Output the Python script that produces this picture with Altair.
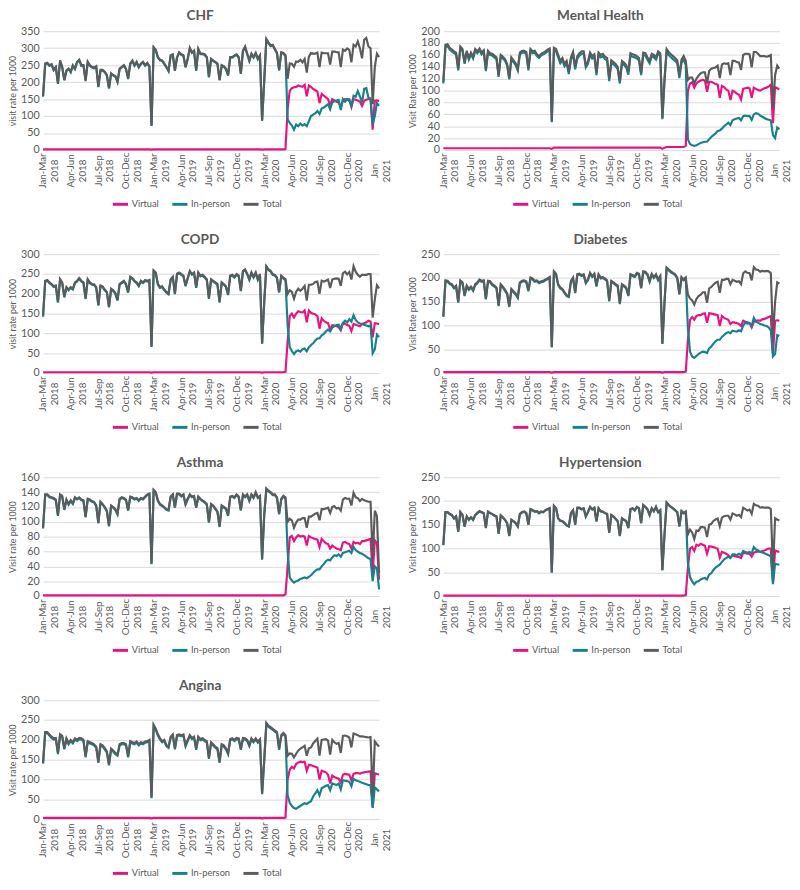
import altair as alt
import pandas as pd

# ------------------------------------------------------------------ data
TICK_QUARTER = ["Jan-Mar", "Apr-Jun", "Jul-Sep", "Oct-Dec",
                "Jan-Mar", "Apr-Jun", "Jul-Sep", "Oct-Dec",
                "Jan-Mar", "Apr-Jun", "Jul-Sep", "Oct-Dec", "Jan"]
TICK_YEAR = ["2018", "2018", "2018", "2018",
             "2019", "2019", "2019", "2019",
             "2020", "2020", "2020", "2020", "2021"]
SERIES = ["Virtual", "In-person", "Total"]

# weekly visit rates per 1000 (week 0 = first week of Jan 2018)
CHF_TOTAL = [
    159, 255, 257, 250, 253, 237, 245, 197, 264, 245, 207, 235, 240, 231, 250, 240, 260, 266, 250, 250,
    205, 260, 250, 245, 243, 247, 187, 236, 236, 231, 221, 183, 226, 221, 218, 202, 240, 245, 250, 240,
    211, 255, 264, 250, 260, 245, 255, 260, 250, 257, 247, 72,
    303, 295, 274, 266, 264, 255, 245, 234, 279, 282, 235, 274, 288, 282, 279, 245, 269, 301, 288, 293,
    235, 298, 284, 284, 282, 274, 216, 269, 264, 260, 255, 207, 250, 247, 240, 221, 274, 274, 279, 282,
    274, 226, 293, 305, 284, 264, 284, 274, 286, 269, 279, 87, 205,
    327, 317, 308, 310, 298, 286, 236, 288, 286, 279,
    210, 255, 254, 245, 261, 260, 266, 258, 268, 228, 275, 286, 284, 284, 287, 244, 287, 285, 285, 285,
    252, 290, 290, 288, 288, 244, 296, 292, 299, 295, 258, 310, 305, 320, 300, 270, 325, 330, 305, 300,
    135, 245, 284, 274]
CHF_INPERSON = [
    157, 253, 255, 248, 251, 235, 243, 195, 262, 243, 205, 233, 238, 229, 248, 238, 258, 264, 248, 248,
    203, 258, 248, 243, 241, 245, 185, 234, 234, 229, 219, 181, 224, 219, 216, 200, 238, 243, 248, 238,
    209, 253, 262, 248, 258, 243, 253, 258, 248, 255, 245, 71,
    301, 293, 272, 264, 262, 253, 243, 232, 277, 280, 233, 272, 286, 280, 277, 243, 267, 299, 286, 291,
    233, 296, 282, 282, 280, 272, 214, 267, 262, 258, 253, 205, 248, 245, 238, 219, 272, 272, 277, 280,
    272, 224, 291, 303, 282, 262, 282, 272, 284, 267, 277, 86, 203,
    325, 315, 306, 308, 296, 284, 234, 286, 284, 276,
    90, 80, 72, 60, 75, 70, 78, 72, 76, 70, 85, 100, 104, 108, 115, 106, 122, 125, 130, 135,
    120, 140, 144, 146, 148, 118, 150, 142, 150, 145, 131, 160, 157, 174, 158, 140, 180, 182, 155, 148,
    75, 100, 138, 130]
CHF_VIRTUAL = [
    2, 2, 2, 2, 2, 2, 2, 2, 2, 2, 2, 2, 2, 2, 2, 2, 2, 2, 2, 2,
    2, 2, 2, 2, 2, 2, 2, 2, 2, 2, 2, 2, 2, 2, 2, 2, 2, 2, 2, 2,
    2, 2, 2, 2, 2, 2, 2, 2, 2, 2, 2, 1,
    2, 2, 2, 2, 2, 2, 2, 2, 2, 2, 2, 2, 2, 2, 2, 2, 2, 2, 2, 2,
    2, 2, 2, 2, 2, 2, 2, 2, 2, 2, 2, 2, 2, 2, 2, 2, 2, 2, 2, 2,
    2, 2, 2, 2, 2, 2, 2, 2, 2, 2, 2, 1, 2,
    2, 2, 2, 2, 2, 2, 2, 2, 2, 3,
    120, 175, 182, 185, 186, 190, 188, 186, 192, 158, 190, 186, 180, 176, 172, 138, 165, 160, 155, 150,
    132, 150, 146, 142, 140, 126, 146, 150, 149, 150, 127, 150, 148, 146, 142, 130, 145, 148, 150, 152,
    60, 145, 146, 144]

MH_TOTAL = [
    115, 177, 178, 172, 169, 166, 164, 137, 174, 170, 148, 167, 155, 164, 157, 170, 166, 171, 164, 168,
    136, 167, 163, 162, 159, 156, 126, 160, 157, 153, 145, 122, 156, 151, 146, 137, 164, 167, 167, 165,
    137, 170, 166, 167, 161, 158, 162, 164, 166, 169, 171, 49,
    172, 170, 160, 150, 155, 145, 150, 132, 156, 165, 140, 158, 163, 166, 166, 143, 149, 164, 158, 161,
    130, 164, 160, 162, 157, 155, 120, 151, 148, 145, 140, 116, 150, 147, 143, 131, 163, 161, 160, 158,
    155, 130, 164, 163, 156, 150, 162, 160, 156, 166, 163, 54, 120,
    170, 165, 161, 158, 155, 151, 126, 152, 158, 150,
    118, 122, 122, 112, 120, 125, 129, 131, 131, 112, 133, 137, 138, 139, 142, 121, 144, 146, 145, 146,
    126, 150, 150, 148, 147, 135, 160, 162, 162, 161, 139, 165, 165, 162, 158, 158, 158, 157, 158, 160,
    70, 126, 142, 137]
MH_INPERSON = [
    112, 174, 175, 169, 166, 163, 161, 134, 171, 167, 145, 164, 152, 161, 154, 167, 163, 168, 161, 165,
    133, 164, 160, 159, 156, 153, 123, 157, 154, 150, 142, 119, 153, 148, 143, 134, 161, 164, 164, 162,
    134, 167, 163, 164, 158, 155, 159, 161, 163, 166, 168, 47,
    168, 166, 156, 146, 151, 141, 146, 128, 152, 161, 136, 154, 159, 162, 162, 139, 145, 160, 154, 157,
    126, 160, 156, 158, 153, 151, 116, 147, 144, 141, 136, 112, 146, 143, 139, 127, 159, 157, 156, 154,
    151, 126, 160, 159, 152, 146, 158, 156, 152, 162, 159, 52, 116,
    165, 160, 156, 153, 150, 146, 121, 147, 153, 143,
    18, 10, 8, 7, 8, 10, 12, 13, 14, 14, 18, 22, 25, 28, 32, 33, 36, 40, 43, 46,
    42, 50, 52, 53, 54, 50, 57, 58, 57, 57, 51, 60, 62, 61, 58, 56, 54, 52, 51, 50,
    25, 20, 38, 35]
MH_VIRTUAL = [
    3, 3, 3, 3, 3, 3, 3, 3, 3, 3, 3, 3, 3, 3, 3, 3, 3, 3, 3, 3,
    3, 3, 3, 3, 3, 3, 3, 3, 3, 3, 3, 3, 3, 3, 3, 3, 3, 3, 3, 3,
    3, 3, 3, 3, 3, 3, 3, 3, 3, 3, 3, 2,
    4, 4, 4, 4, 4, 4, 4, 4, 4, 4, 4, 4, 4, 4, 4, 4, 4, 4, 4, 4,
    4, 4, 4, 4, 4, 4, 4, 4, 4, 4, 4, 4, 4, 4, 4, 4, 4, 4, 4, 4,
    4, 4, 4, 4, 4, 4, 4, 4, 4, 4, 4, 2, 4,
    5, 5, 5, 5, 5, 5, 5, 5, 5, 7,
    100, 112, 114, 105, 112, 115, 117, 118, 117, 98, 115, 115, 113, 111, 110, 88, 108, 106, 102, 100,
    84, 100, 98, 95, 93, 85, 103, 104, 105, 104, 88, 105, 103, 101, 100, 102, 104, 105, 107, 110,
    45, 106, 104, 102]

COPD_TOTAL = [
    144, 233, 235, 229, 225, 219, 221, 180, 237, 229, 193, 217, 211, 217, 213, 229, 233, 240, 233, 229,
    189, 237, 229, 225, 224, 217, 172, 221, 219, 211, 205, 168, 213, 209, 202, 185, 225, 229, 233, 225,
    205, 243, 240, 233, 229, 221, 233, 229, 235, 233, 235, 67,
    259, 254, 225, 217, 219, 211, 205, 201, 237, 243, 201, 251, 254, 250, 246, 221, 240, 258, 250, 254,
    217, 254, 246, 248, 243, 237, 189, 237, 233, 229, 225, 180, 229, 225, 219, 199, 246, 248, 243, 250,
    246, 209, 258, 262, 251, 237, 254, 243, 254, 237, 250, 75, 180,
    270, 262, 258, 250, 248, 241, 205, 246, 241, 237,
    200, 209, 205, 188, 205, 213, 208, 213, 220, 183, 223, 223, 225, 230, 231, 200, 233, 231, 233, 236,
    215, 236, 238, 239, 238, 220, 252, 256, 249, 255, 236, 270, 256, 248, 243, 248, 248, 248, 250, 250,
    140, 186, 222, 214]
COPD_INPERSON = [
    142, 231, 233, 227, 223, 217, 219, 178, 235, 227, 191, 215, 209, 215, 211, 227, 231, 238, 231, 227,
    187, 235, 227, 223, 222, 215, 170, 219, 217, 209, 203, 166, 211, 207, 200, 183, 223, 227, 231, 223,
    203, 241, 238, 231, 227, 219, 231, 227, 233, 231, 233, 66,
    257, 252, 223, 215, 217, 209, 203, 199, 235, 241, 199, 249, 252, 248, 244, 219, 238, 256, 248, 252,
    215, 252, 244, 246, 241, 235, 187, 235, 231, 227, 223, 178, 227, 223, 217, 197, 244, 246, 241, 248,
    244, 207, 256, 260, 249, 235, 252, 241, 252, 235, 248, 74, 178,
    268, 260, 256, 248, 246, 239, 203, 244, 239, 234,
    120, 65, 55, 48, 55, 57, 54, 60, 62, 55, 65, 71, 75, 82, 87, 88, 95, 99, 105, 110,
    105, 115, 118, 121, 122, 112, 126, 132, 128, 136, 130, 146, 134, 128, 125, 124, 122, 120, 118, 120,
    50, 60, 97, 91]
COPD_VIRTUAL = [
    2, 2, 2, 2, 2, 2, 2, 2, 2, 2, 2, 2, 2, 2, 2, 2, 2, 2, 2, 2,
    2, 2, 2, 2, 2, 2, 2, 2, 2, 2, 2, 2, 2, 2, 2, 2, 2, 2, 2, 2,
    2, 2, 2, 2, 2, 2, 2, 2, 2, 2, 2, 1,
    2, 2, 2, 2, 2, 2, 2, 2, 2, 2, 2, 2, 2, 2, 2, 2, 2, 2, 2, 2,
    2, 2, 2, 2, 2, 2, 2, 2, 2, 2, 2, 2, 2, 2, 2, 2, 2, 2, 2, 2,
    2, 2, 2, 2, 2, 2, 2, 2, 2, 2, 2, 1, 2,
    2, 2, 2, 2, 2, 2, 2, 2, 2, 3,
    80, 144, 150, 140, 150, 156, 154, 153, 158, 128, 158, 152, 150, 148, 144, 112, 138, 132, 128, 126,
    110, 121, 120, 118, 116, 108, 126, 124, 121, 119, 106, 124, 122, 120, 118, 124, 126, 128, 132, 130,
    90, 126, 125, 123]

DIAB_TOTAL = [
    120, 195, 194, 189, 187, 180, 184, 150, 195, 191, 164, 184, 177, 182, 175, 187, 191, 197, 194, 195,
    157, 194, 193, 187, 184, 180, 143, 187, 182, 175, 168, 141, 177, 172, 167, 160, 191, 194, 195, 193,
    174, 201, 199, 194, 195, 191, 193, 194, 197, 199, 202, 55,
    214, 209, 187, 180, 177, 170, 164, 162, 194, 201, 170, 208, 209, 206, 208, 191, 197, 211, 204, 209,
    184, 208, 201, 202, 199, 195, 153, 194, 191, 187, 184, 147, 187, 184, 180, 164, 208, 206, 204, 211,
    209, 180, 214, 213, 208, 194, 209, 202, 208, 197, 204, 62, 150,
    222, 218, 214, 211, 208, 201, 167, 202, 197, 201,
    165, 157, 153, 144, 156, 162, 165, 170, 170, 148, 178, 181, 186, 190, 192, 169, 196, 196, 198, 198,
    187, 196, 194, 192, 193, 187, 210, 214, 211, 210, 195, 223, 218, 217, 213, 215, 214, 215, 214, 210,
    75, 150, 191, 188]
DIAB_INPERSON = [
    118, 193, 192, 187, 185, 178, 182, 148, 193, 189, 162, 182, 175, 180, 173, 185, 189, 195, 192, 193,
    155, 192, 191, 185, 182, 178, 141, 185, 180, 173, 166, 139, 175, 170, 165, 158, 189, 192, 193, 191,
    172, 199, 197, 192, 193, 189, 191, 192, 195, 197, 200, 54,
    212, 207, 185, 178, 175, 168, 162, 160, 192, 199, 168, 206, 207, 204, 206, 189, 195, 209, 202, 207,
    182, 206, 199, 200, 197, 193, 151, 192, 189, 185, 182, 145, 185, 182, 178, 162, 206, 204, 202, 209,
    207, 178, 212, 211, 206, 192, 207, 200, 206, 195, 202, 61, 148,
    220, 216, 212, 209, 206, 199, 165, 200, 195, 198,
    95, 45, 35, 32, 36, 40, 43, 45, 44, 42, 52, 56, 62, 67, 70, 70, 76, 80, 84, 86,
    84, 89, 88, 87, 90, 88, 100, 106, 104, 105, 99, 116, 108, 106, 103, 102, 100, 99, 96, 90,
    35, 40, 80, 78]
DIAB_VIRTUAL = [
    2, 2, 2, 2, 2, 2, 2, 2, 2, 2, 2, 2, 2, 2, 2, 2, 2, 2, 2, 2,
    2, 2, 2, 2, 2, 2, 2, 2, 2, 2, 2, 2, 2, 2, 2, 2, 2, 2, 2, 2,
    2, 2, 2, 2, 2, 2, 2, 2, 2, 2, 2, 1,
    2, 2, 2, 2, 2, 2, 2, 2, 2, 2, 2, 2, 2, 2, 2, 2, 2, 2, 2, 2,
    2, 2, 2, 2, 2, 2, 2, 2, 2, 2, 2, 2, 2, 2, 2, 2, 2, 2, 2, 2,
    2, 2, 2, 2, 2, 2, 2, 2, 2, 2, 2, 1, 2,
    2, 2, 2, 2, 2, 2, 2, 2, 2, 3,
    70, 112, 118, 112, 120, 122, 122, 125, 126, 106, 126, 125, 124, 123, 122, 99, 120, 116, 114, 112,
    103, 107, 106, 105, 103, 99, 110, 108, 107, 105, 96, 107, 110, 111, 110, 113, 114, 116, 118, 120,
    40, 110, 111, 110]

ASTH_TOTAL = [
    92, 137, 137, 134, 133, 132, 130, 109, 137, 135, 117, 130, 124, 129, 125, 133, 131, 133, 130, 129,
    107, 131, 130, 128, 127, 122, 99, 127, 124, 120, 115, 95, 122, 120, 117, 111, 131, 133, 132, 130,
    116, 134, 133, 131, 132, 129, 132, 131, 134, 137, 138, 44,
    143, 140, 129, 124, 122, 120, 117, 116, 134, 137, 120, 138, 138, 135, 137, 124, 131, 137, 134, 135,
    120, 134, 131, 129, 127, 124, 100, 124, 122, 118, 114, 94, 122, 120, 118, 109, 134, 135, 133, 137,
    134, 116, 137, 134, 137, 129, 137, 133, 140, 133, 135, 50, 110,
    145, 142, 140, 137, 137, 133, 111, 131, 135, 133,
    100, 104, 102, 92, 99, 103, 103, 105, 105, 92, 107, 107, 109, 111, 112, 102, 117, 117, 118, 119,
    112, 120, 121, 118, 119, 115, 130, 132, 131, 131, 122, 139, 133, 132, 128, 131, 129, 128, 127, 127,
    50, 115, 108, 31]
ASTH_INPERSON = [
    91, 136, 136, 133, 132, 131, 129, 108, 136, 134, 116, 129, 123, 128, 124, 132, 130, 132, 129, 128,
    106, 130, 129, 127, 126, 121, 98, 126, 123, 119, 114, 94, 121, 119, 116, 110, 130, 132, 131, 129,
    115, 133, 132, 130, 131, 128, 131, 130, 133, 136, 137, 43,
    142, 139, 128, 123, 121, 119, 116, 115, 133, 136, 119, 137, 137, 134, 136, 123, 130, 136, 133, 134,
    119, 133, 130, 128, 126, 123, 99, 123, 121, 117, 113, 93, 121, 119, 117, 108, 133, 134, 132, 136,
    133, 115, 136, 133, 136, 128, 136, 132, 139, 132, 134, 49, 109,
    144, 141, 139, 136, 136, 132, 110, 130, 134, 131,
    60, 25, 21, 18, 20, 21, 23, 24, 25, 24, 26, 28, 31, 34, 36, 36, 40, 43, 47, 49,
    48, 52, 55, 54, 56, 53, 58, 59, 60, 61, 58, 66, 62, 60, 58, 57, 55, 53, 51, 50,
    20, 40, 37, 9]
ASTH_VIRTUAL = [
    1, 1, 1, 1, 1, 1, 1, 1, 1, 1, 1, 1, 1, 1, 1, 1, 1, 1, 1, 1,
    1, 1, 1, 1, 1, 1, 1, 1, 1, 1, 1, 1, 1, 1, 1, 1, 1, 1, 1, 1,
    1, 1, 1, 1, 1, 1, 1, 1, 1, 1, 1, 1,
    1, 1, 1, 1, 1, 1, 1, 1, 1, 1, 1, 1, 1, 1, 1, 1, 1, 1, 1, 1,
    1, 1, 1, 1, 1, 1, 1, 1, 1, 1, 1, 1, 1, 1, 1, 1, 1, 1, 1, 1,
    1, 1, 1, 1, 1, 1, 1, 1, 1, 1, 1, 1, 1,
    1, 1, 1, 1, 1, 1, 1, 1, 1, 2,
    40, 79, 81, 74, 79, 82, 80, 81, 80, 68, 81, 79, 78, 77, 76, 66, 77, 74, 71, 70,
    64, 68, 66, 64, 63, 62, 72, 73, 71, 70, 64, 73, 71, 72, 70, 74, 74, 75, 76, 77,
    30, 75, 71, 22]

HYP_TOTAL = [
    108, 177, 177, 173, 171, 164, 168, 136, 177, 171, 147, 168, 161, 166, 161, 171, 175, 179, 177, 175,
    144, 178, 175, 173, 170, 168, 132, 170, 166, 161, 154, 127, 161, 158, 154, 147, 173, 177, 178, 175,
    151, 183, 181, 178, 179, 175, 178, 177, 181, 183, 185, 50,
    190, 185, 164, 159, 158, 154, 149, 147, 175, 181, 151, 186, 186, 183, 185, 168, 177, 188, 183, 186,
    158, 185, 179, 178, 175, 173, 134, 171, 168, 163, 158, 127, 164, 161, 158, 144, 183, 185, 181, 188,
    185, 154, 192, 188, 183, 171, 185, 179, 188, 177, 181, 55, 130,
    197, 192, 188, 185, 181, 177, 147, 179, 175, 178,
    130, 140, 134, 120, 138, 137, 145, 145, 144, 124, 150, 152, 158, 161, 163, 147, 165, 168, 169, 169,
    161, 174, 172, 169, 171, 166, 186, 183, 180, 182, 173, 194, 191, 190, 186, 187, 186, 186, 186, 183,
    55, 164, 161, 159]
HYP_INPERSON = [
    107, 176, 176, 172, 170, 163, 167, 135, 176, 170, 146, 167, 160, 165, 160, 170, 174, 178, 176, 174,
    143, 177, 174, 172, 169, 167, 131, 169, 165, 160, 153, 126, 160, 157, 153, 146, 172, 176, 177, 174,
    150, 182, 180, 177, 178, 174, 177, 176, 180, 182, 184, 49,
    189, 184, 163, 158, 157, 153, 148, 146, 174, 180, 150, 185, 185, 182, 184, 167, 176, 187, 182, 185,
    157, 184, 178, 177, 174, 172, 133, 170, 167, 162, 157, 126, 163, 160, 157, 143, 182, 184, 180, 187,
    184, 153, 191, 187, 182, 170, 184, 178, 187, 176, 180, 54, 129,
    196, 191, 187, 184, 180, 176, 146, 178, 174, 176,
    70, 40, 31, 25, 30, 31, 35, 37, 38, 35, 45, 48, 55, 60, 63, 66, 72, 77, 80, 83,
    80, 88, 88, 86, 89, 86, 95, 93, 91, 93, 90, 103, 98, 96, 93, 92, 90, 88, 86, 83,
    25, 68, 67, 66]
HYP_VIRTUAL = [
    1, 1, 1, 1, 1, 1, 1, 1, 1, 1, 1, 1, 1, 1, 1, 1, 1, 1, 1, 1,
    1, 1, 1, 1, 1, 1, 1, 1, 1, 1, 1, 1, 1, 1, 1, 1, 1, 1, 1, 1,
    1, 1, 1, 1, 1, 1, 1, 1, 1, 1, 1, 1,
    1, 1, 1, 1, 1, 1, 1, 1, 1, 1, 1, 1, 1, 1, 1, 1, 1, 1, 1, 1,
    1, 1, 1, 1, 1, 1, 1, 1, 1, 1, 1, 1, 1, 1, 1, 1, 1, 1, 1, 1,
    1, 1, 1, 1, 1, 1, 1, 1, 1, 1, 1, 1, 1,
    1, 1, 1, 1, 1, 1, 1, 1, 1, 2,
    60, 100, 103, 95, 108, 106, 110, 108, 106, 89, 105, 104, 103, 101, 100, 81, 93, 91, 89, 86,
    81, 86, 84, 83, 82, 80, 91, 90, 89, 89, 83, 91, 93, 94, 93, 95, 96, 98, 100, 100,
    30, 96, 94, 93]

ANG_TOTAL = [
    143, 220, 220, 214, 208, 204, 205, 167, 214, 210, 179, 204, 192, 200, 194, 204, 200, 205, 204, 200,
    159, 197, 194, 192, 189, 183, 145, 189, 186, 179, 171, 139, 178, 173, 167, 163, 189, 192, 192, 189,
    159, 197, 194, 192, 196, 189, 194, 192, 196, 197, 200, 55,
    238, 228, 214, 204, 197, 200, 187, 183, 208, 214, 179, 212, 214, 212, 214, 187, 200, 212, 205, 208,
    178, 208, 202, 204, 200, 197, 155, 194, 189, 183, 179, 145, 189, 186, 179, 167, 202, 204, 200, 205,
    204, 178, 205, 204, 200, 187, 204, 197, 204, 196, 202, 65, 150,
    243, 236, 232, 228, 224, 220, 178, 212, 218, 212,
    160, 166, 165, 156, 165, 173, 178, 181, 185, 160, 179, 181, 191, 197, 203, 160, 200, 201, 202, 198,
    163, 200, 194, 190, 192, 167, 210, 211, 209, 206, 181, 216, 214, 212, 209, 209, 208, 207, 206, 207,
    58, 196, 189, 183]
ANG_INPERSON = [
    140, 217, 217, 211, 205, 201, 202, 164, 211, 207, 176, 201, 189, 197, 191, 201, 197, 202, 201, 197,
    156, 194, 191, 189, 186, 180, 142, 186, 183, 176, 168, 136, 175, 170, 164, 160, 186, 189, 189, 186,
    156, 194, 191, 189, 193, 186, 191, 189, 193, 194, 197, 53,
    235, 225, 211, 201, 194, 197, 184, 180, 205, 211, 176, 209, 211, 209, 211, 184, 197, 209, 202, 205,
    175, 205, 199, 201, 197, 194, 152, 191, 186, 180, 176, 142, 186, 183, 176, 164, 199, 201, 197, 202,
    201, 175, 202, 201, 197, 184, 201, 194, 201, 193, 199, 63, 147,
    240, 233, 229, 225, 221, 217, 175, 209, 215, 208,
    60, 41, 33, 28, 26, 30, 33, 37, 40, 38, 42, 45, 57, 65, 73, 60, 78, 81, 84, 86,
    73, 90, 88, 86, 90, 75, 98, 97, 96, 94, 83, 102, 98, 96, 94, 92, 90, 88, 86, 86,
    28, 80, 75, 70]
ANG_VIRTUAL = [
    3, 3, 3, 3, 3, 3, 3, 3, 3, 3, 3, 3, 3, 3, 3, 3, 3, 3, 3, 3,
    3, 3, 3, 3, 3, 3, 3, 3, 3, 3, 3, 3, 3, 3, 3, 3, 3, 3, 3, 3,
    3, 3, 3, 3, 3, 3, 3, 3, 3, 3, 3, 2,
    3, 3, 3, 3, 3, 3, 3, 3, 3, 3, 3, 3, 3, 3, 3, 3, 3, 3, 3, 3,
    3, 3, 3, 3, 3, 3, 3, 3, 3, 3, 3, 3, 3, 3, 3, 3, 3, 3, 3, 3,
    3, 3, 3, 3, 3, 3, 3, 3, 3, 3, 3, 2, 3,
    3, 3, 3, 3, 3, 3, 3, 3, 3, 4,
    100, 125, 132, 128, 139, 143, 145, 144, 145, 122, 137, 136, 134, 132, 130, 100, 122, 120, 118, 112,
    90, 110, 106, 104, 102, 92, 112, 114, 113, 112, 98, 114, 116, 116, 115, 117, 118, 119, 120, 121,
    30, 116, 114, 113]

# ------------------------------------------------------------------ style
PINK, TEAL, GRAY = "#E8137F", "#16808D", "#5B5B5B"
TEXT = "#595959"
GRID = "#D9D9D9"
FONT = "Lato"
PANEL_W, PANEL_H = 345, 122
N_WEEKS = len(CHF_TOTAL)
TICK_WEEKS = [13 * k for k in range(len(TICK_QUARTER))]

label_expr = "''"
for w, q, yv in reversed(list(zip(TICK_WEEKS, TICK_QUARTER, TICK_YEAR))):
    label_expr = f"datum.value == {w} ? ['{q}', '{yv}'] : ({label_expr})"


def to_long(virtual, inperson, total):
    rows = []
    for name, vals in zip(SERIES, [virtual, inperson, total]):
        for i, v in enumerate(vals):
            rows.append({"week": i, "series": name, "value": v})
    return pd.DataFrame(rows)


def panel(title, ytitle, ymax, ystep, virtual, inperson, total):
    df = to_long(virtual, inperson, total)
    x = alt.X("week:Q",
              scale=alt.Scale(domain=[0, N_WEEKS - 1], nice=False, zero=False),
              axis=alt.Axis(values=TICK_WEEKS, labelExpr=label_expr, labelAngle=-90,
                            labelAlign="center", labelBaseline="middle", labelPadding=21,
                            labelLineHeight=12, ticks=False, tickSize=0, domain=False,
                            grid=False, labelOverlap=False, labelFlush=False, title=None,
                            labelFontSize=10, labelColor=TEXT, labelFont=FONT))
    y = alt.Y("value:Q",
              scale=alt.Scale(domain=[0, ymax], nice=False),
              axis=alt.Axis(values=list(range(0, ymax + 1, ystep)), title=ytitle,
                            grid=True, gridColor=GRID, gridWidth=1, domain=False,
                            ticks=False, tickSize=0, labelFontSize=11, labelColor=TEXT,
                            labelPadding=4, titleFontSize=9, titleFontWeight="normal",
                            titleColor=TEXT, titlePadding=3, labelFont=FONT, titleFont=FONT))
    color = alt.Color("series:N",
                      scale=alt.Scale(domain=SERIES, range=[PINK, TEAL, GRAY]),
                      legend=alt.Legend(orient="none", legendX=70, legendY=168,
                                        direction="horizontal", title=None,
                                        symbolType="stroke", symbolStrokeWidth=3,
                                        symbolSize=240, labelFontSize=9.5, labelColor=TEXT,
                                        labelFont=FONT, columnPadding=7, labelOffset=2,
                                        padding=0))
    base = alt.Chart(df)
    layers = [base.transform_filter(alt.datum.series == s)
              .mark_line(strokeWidth=2.2)
              .encode(x=x, y=y, color=color) for s in SERIES]
    return alt.layer(*layers).properties(
        width=PANEL_W, height=PANEL_H,
        title=alt.TitleParams(title, fontSize=14, fontWeight="bold", color=TEXT,
                              font=FONT, anchor="middle", frame="bounds", offset=2))


chf = panel("CHF", "visit rate per 1000", 350, 50, CHF_VIRTUAL, CHF_INPERSON, CHF_TOTAL)
mh = panel("Mental Health", "Visit Rate per 1000", 200, 20, MH_VIRTUAL, MH_INPERSON, MH_TOTAL)
copd = panel("COPD", "visit rate per 1000", 300, 50, COPD_VIRTUAL, COPD_INPERSON, COPD_TOTAL)
diab = panel("Diabetes", "Visit Rate per 1000", 250, 50, DIAB_VIRTUAL, DIAB_INPERSON, DIAB_TOTAL)
asth = panel("Asthma", "Visit rate per 1000", 160, 20, ASTH_VIRTUAL, ASTH_INPERSON, ASTH_TOTAL)
hyp = panel("Hypertension", "Visit rate per 1000", 250, 50, HYP_VIRTUAL, HYP_INPERSON, HYP_TOTAL)
ang = panel("Angina", "Visit rate per 1000", 300, 50, ANG_VIRTUAL, ANG_INPERSON, ANG_TOTAL)


def row(*charts):
    return alt.hconcat(*charts, spacing=17).resolve_scale(
        x="independent", y="independent", color="independent")


chart = alt.vconcat(row(chf, mh), row(copd, diab), row(asth, hyp), row(ang), spacing=23)
chart = chart.resolve_scale(x="independent", y="independent", color="independent")
chart = chart.properties(padding={"left": 0, "top": -10, "right": 0, "bottom": 0})
chart = chart.configure(font=FONT).configure_view(stroke=None)

chart.save("out.html", embed_options={"renderer": "svg", "actions": False})
